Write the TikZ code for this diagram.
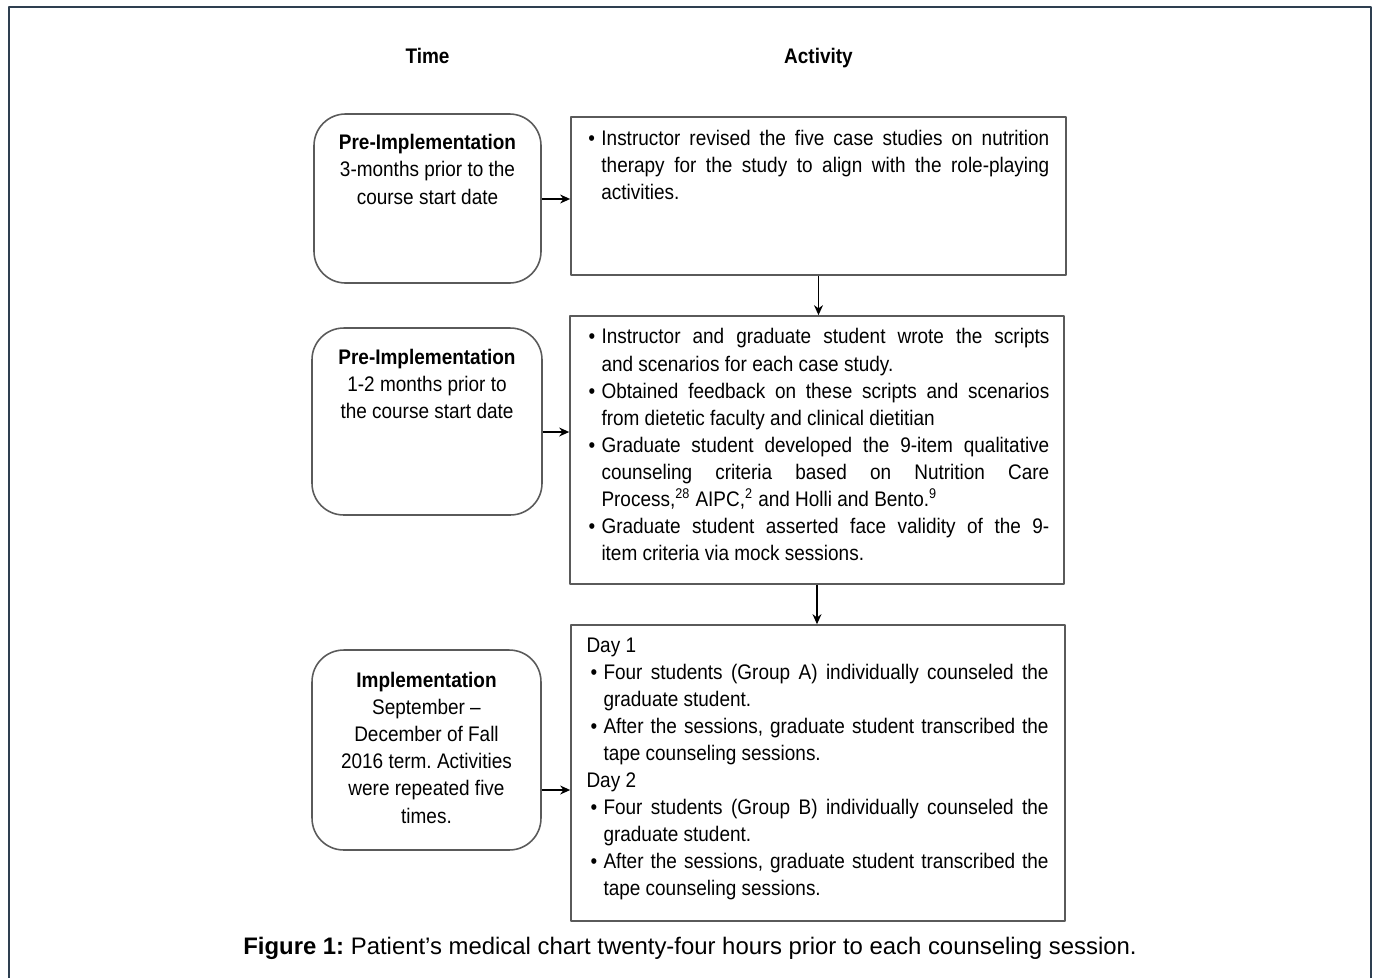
\documentclass[tikz,border=0pt]{standalone}
\usepackage{fontspec}
\setmainfont{Liberation Sans}
\newfontfamily\boxfont[FakeStretch=0.9]{Liberation Sans}
\usetikzlibrary{positioning,arrows.meta}
\newlength\pxl \setlength\pxl{0.02cm}
\hyphenpenalty=10000 \exhyphenpenalty=10000
\frenchspacing
% bullet item, optional left offset in px
\newcommand\bpt[1][0]{\noindent\hangindent=\dimexpr#1\pxl+13\pxl\relax\hangafter=1\hspace*{#1\pxl}\makebox[13\pxl][l]{\textbullet}\ignorespaces}
\definecolor{framecol}{HTML}{2E3F50}
\definecolor{boxline}{HTML}{5A5A5A}
\begin{document}
\begin{tikzpicture}[x=0.02cm,y=-0.02cm,>={Stealth[length=5.7pt,width=5.1pt]},line join=round,
	timebox/.style={draw=boxline,line width=0.9pt,rounded corners=18pt,inner sep=0},
	actbox/.style={draw=boxline,line width=1pt,inner sep=0},
	timetxt/.style={font=\boxfont\fontsize{12}{15.4}\selectfont,align=center,inner sep=0,anchor=north},
	acttxt/.style={font=\boxfont\fontsize{12}{15.4}\selectfont,text width=263pt,align=justify,inner sep=0,anchor=north west},
	head/.style={font=\boxfont\bfseries\fontsize{12}{14}\selectfont,anchor=base},
	arr/.style={->,line width=0.8pt}]
	\useasboundingbox (0,0) rectangle (1374,978);
	% frame, open at the bottom
	\draw[framecol,line width=0.85pt] (9,978) -- (9,7) -- (1371,7) -- (1371,978);
	% time column
	\node[timebox,minimum width=129.2pt,minimum height=96.2pt] (l1) at (427.5,198.5) {};
	\node[timebox,minimum width=130.9pt,minimum height=106.4pt] (l2) at (427,421.5) {};
	\node[timebox,minimum width=130.3pt,minimum height=113.8pt] (l3) at (426.5,750) {};
	\node[timetxt] (t1) at ([yshift=-12pt]l1.north) {\textbf{Pre-Implementation}\\3-months prior to the\\course start date};
	\node[timetxt] (t2) at ([yshift=-12.5pt]l2.north) {\textbf{Pre-Implementation}\\1-2 months prior to\\the course start date};
	\node[timetxt] (t3) at ([yshift=-13pt]l3.north) {\textbf{Implementation}\\September –\\December of Fall\\2016 term. Activities\\were repeated five\\times.};
	% activity column
	\node[actbox,minimum width=281.7pt,minimum height=89.9pt] (r1) at (818.5,196) {};
	\node[actbox,minimum width=281.1pt,minimum height=152.5pt] (r2) at (817,450) {};
	\node[actbox,minimum width=281.1pt,minimum height=168.4pt] (r3) at (818,773) {};
	\node[acttxt,text width=262.3pt] (a1) at ([xshift=10.2pt,yshift=-8pt]r1.north west) {%
	\bpt Instructor revised the five case studies on nutrition\linebreak therapy for the study to align with the role-playing\linebreak activities.\par};
	\node[acttxt,text width=262.3pt] (a2) at ([xshift=10.8pt,yshift=-7.5pt]r2.north west) {%
	\bpt Instructor and graduate student wrote the scripts\linebreak and scenarios for each case study.\par
	\bpt Obtained feedback on these scripts and scenarios\linebreak from dietetic faculty and clinical dietitian\par
	\bpt Graduate student developed the 9-item qualitative\linebreak counseling criteria based on Nutrition Care\linebreak Process,\textsuperscript{28} AIPC,\textsuperscript{2} and Holli and Bento.\textsuperscript{9}\par
	\bpt Graduate student asserted face validity of the 9-\linebreak item criteria via mock sessions.\par};
	\node[acttxt] (a3) at ([xshift=9.1pt,yshift=-7.5pt]r3.north west) {%
	\noindent Day 1\par
	\bpt[4] Four students (Group A) individually counseled the\linebreak graduate student.\par
	\bpt[4] After the sessions, graduate student transcribed the\linebreak tape counseling sessions.\par
	\noindent Day 2\par
	\bpt[4] Four students (Group B) individually counseled the\linebreak graduate student.\par
	\bpt[4] After the sessions, graduate student transcribed the\linebreak tape counseling sessions.\par};
	% headings
	\node[head] (hTime) at (l1.north |- 0,63) {Time};
	\node[head] (hAct) at (r1.north |- hTime.base) {Activity};
	% arrows
	\draw[arr] (l1.east |- 0,199) -- (r1.west |- 0,199);
	\draw[arr] (l2.east |- 0,432) -- (r2.west |- 0,432);
	\draw[arr] (l3.east |- 0,790) -- (r3.west |- 0,790);
	\draw[arr] (r1.south) -- (r1.south |- r2.north);
	\draw[arr] (r2.south) -- (r2.south |- r3.north);
	% caption
	\node[font=\fontsize{13.6}{16}\selectfont] (cap) at (690,948) {\textbf{Figure 1:} Patient’s medical chart twenty-four hours prior to each counseling session.};
\end{tikzpicture}
\end{document}
